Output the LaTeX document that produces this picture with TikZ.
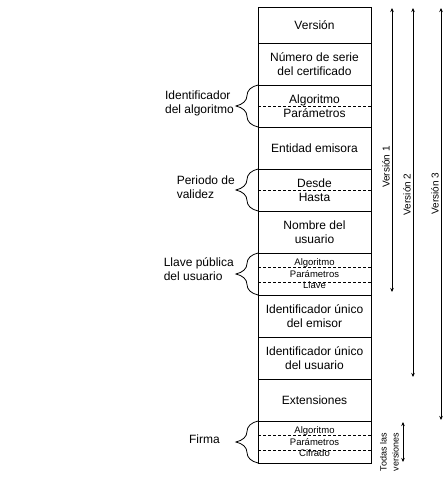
\documentclass[tikz,border=0pt]{standalone}
\usepackage{fontspec}
\setmainfont{Liberation Sans}
\usetikzlibrary{positioning,arrows.meta,decorations.pathreplacing}

\tikzset{
  campo/.style={draw, line width=0.8pt, minimum width=113pt, minimum height=42pt,
    inner sep=0pt, outer sep=0pt, align=center, font=\fontsize{12}{14}\selectfont},
  campochico/.style={campo, font=\fontsize{9.5}{11.5}\selectfont},
  separa/.style={line width=0.7pt, dash pattern=on 3pt off 2pt},
  llave/.style={line width=0.8pt, decorate, decoration={brace, amplitude=22pt}},
  etiq/.style={align=left, inner sep=0pt, font=\fontsize{12}{14}\selectfont},
  vers/.style={line width=0.8pt, {Stealth[length=4pt,width=3.5pt]}-{Stealth[length=4pt,width=3.5pt]}},
  verslbl/.style={rotate=90, anchor=south, inner sep=2pt, font=\fontsize{10}{12}\selectfont}
}

\begin{document}
\begin{tikzpicture}[x=1pt, y=-1pt]
  \useasboundingbox (0,0) rectangle (446,492);

  % campos del certificado
  \node[campo, minimum height=36pt] (version) at (314.5,25) {Versión};
  \node[campo, below=0pt of version] (serie) {Número de serie\\del certificado};
  \node[campo, below=0pt of serie] (alg) {Algoritmo\\Parámetros};
  \node[campo, below=0pt of alg] (emisora) {Entidad emisora};
  \node[campo, below=0pt of emisora] (validez) {Desde\\Hasta};
  \node[campo, below=0pt of validez] (nombre) {Nombre del\\usuario};
  \node[campochico, below=0pt of nombre] (clave) {Algoritmo\\Parámetros\\Llave};
  \node[campo, below=0pt of clave] (idemisor) {Identificador único\\del emisor};
  \node[campo, below=0pt of idemisor] (idusuario) {Identificador único\\del usuario};
  \node[campo, below=0pt of idusuario] (ext) {Extensiones};
  \node[campochico, below=0pt of ext] (firma) {Algoritmo\\Parámetros\\Cifrado};

  % separaciones punteadas
  \draw[separa] (alg.west) -- (alg.east);
  \draw[separa] (validez.west) -- (validez.east);
  \draw[separa] ([yshift=-14pt]clave.north west) -- ([yshift=-14pt]clave.north east);
  \draw[separa] ([yshift=-29pt]clave.north west) -- ([yshift=-29pt]clave.north east);
  \draw[separa] ([yshift=-14pt]firma.north west) -- ([yshift=-14pt]firma.north east);
  \draw[separa] ([yshift=-29pt]firma.north west) -- ([yshift=-29pt]firma.north east);

  % llaves y etiquetas
  \draw[llave] (alg.south west) -- (alg.north west);
  \draw[llave] (validez.south west) -- (validez.north west);
  \draw[llave] (clave.south west) -- (clave.north west);
  \draw[llave] (firma.south west) -- (firma.north west);
  \node[etiq, anchor=east] (alglbl) at ([xshift=-24pt,yshift=3pt]alg.west) {Identificador\\del algoritmo};
  \node[etiq, anchor=east] (validezlbl) at ([xshift=-23pt,yshift=3pt]validez.west) {Periodo de\\validez};
  \node[etiq, anchor=east] (clavelbl) at ([xshift=-24pt,yshift=5pt]clave.west) {Llave pública\\del usuario};
  \node[etiq, anchor=east] (firmalbl) at ([xshift=-38pt,yshift=3pt]firma.west) {Firma};

  % versiones
  \coordinate (v1a) at ([xshift=21pt,yshift=-1pt]version.north east);
  \coordinate (v1b) at ([xshift=21pt,yshift=3pt]clave.south east);
  \coordinate (v2a) at ([xshift=42pt,yshift=-1pt]version.north east);
  \coordinate (v2b) at ([xshift=42pt,yshift=2pt]idusuario.south east);
  \coordinate (v3a) at ([xshift=70pt,yshift=-1pt]version.north east);
  \coordinate (v3b) at ([xshift=70pt,yshift=1pt]ext.south east);
  \coordinate (tda) at ([xshift=32pt,yshift=-1pt]firma.north east);
  \coordinate (tdb) at ([xshift=32pt,yshift=1pt]firma.south east);
  \draw[vers] (v1a) -- node[verslbl, pos=0.56] (v1lbl) {Versión 1} (v1b);
  \draw[vers] (v2a) -- node[verslbl, pos=0.505] (v2lbl) {Versión 2} (v2b);
  \draw[vers] (v3a) -- node[verslbl, pos=0.45] (v3lbl) {Versión 3} (v3b);
  \draw[vers] (tda) -- (tdb);
  \node[verslbl, align=left, font=\fontsize{9}{12}\selectfont]
    (todaslbl) at ([xshift=-2pt,yshift=-10pt]firma.east -| tda) {Todas las\\versiones};
\end{tikzpicture}
\end{document}
